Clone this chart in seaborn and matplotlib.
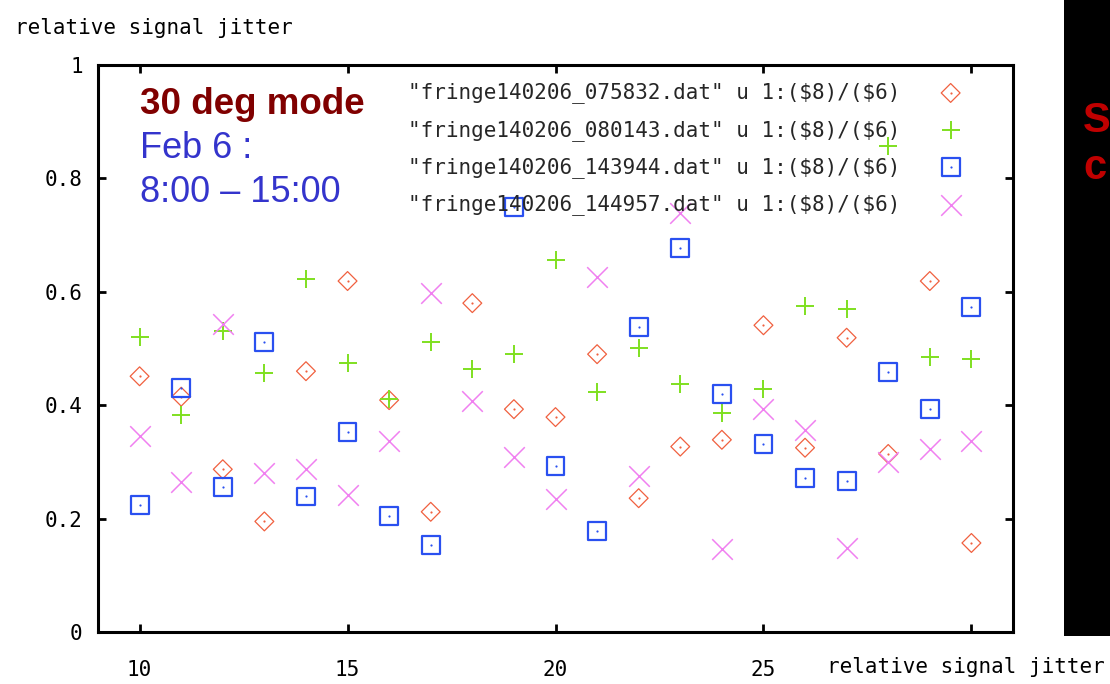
import numpy as np
import pandas as pd
import matplotlib
matplotlib.use("Agg")
import matplotlib.pyplot as plt
from matplotlib.patches import Rectangle
from matplotlib.ticker import FuncFormatter
import seaborn as sns

# ---------------- data ----------------
x_vals = list(range(10, 31))
labels = ['"fringe140206_075832.dat" u 1:(\\$8)/(\\$6)',
          '"fringe140206_080143.dat" u 1:(\\$8)/(\\$6)',
          '"fringe140206_143944.dat" u 1:(\\$8)/(\\$6)',
          '"fringe140206_144957.dat" u 1:(\\$8)/(\\$6)']
s075832 = [0.451, 0.415, 0.287, 0.195, 0.460, 0.619, 0.409, 0.212, 0.580, 0.393, 0.379,
           0.490, 0.236, 0.327, 0.339, 0.541, 0.325, 0.519, 0.314, 0.619, 0.157]
s080143 = [0.520, 0.383, 0.530, 0.456, 0.623, 0.475, 0.411, 0.511, 0.464, 0.490, 0.656,
           0.423, 0.501, 0.438, 0.386, 0.428, 0.575, 0.570, 0.857, 0.485, 0.482]
s143944 = [0.224, 0.430, 0.256, 0.511, 0.239, 0.353, 0.205, 0.153, np.nan, 0.749, 0.293,
           0.178, 0.538, 0.677, 0.420, 0.332, 0.272, 0.266, 0.459, 0.393, 0.573]
s144957 = [0.346, 0.265, 0.543, 0.280, 0.287, 0.242, 0.336, 0.598, 0.407, 0.308, 0.235,
           0.626, 0.276, 0.739, 0.146, 0.393, 0.356, 0.148, 0.300, 0.323, 0.337]
x_ticks = [10, 15, 20, 25, 30]
x_tick_labels = ["10", "15", "20", "25", ""]
y_ticks = [0, 0.2, 0.4, 0.6, 0.8, 1]

colors = ["#f0603f", "#7fe020", "#2a50f0", "#f080f0"]

# ---------------- style ----------------
sns.set_style("ticks")
mono = ["DejaVu Sans Mono"]
plt.rcParams["font.family"] = mono

fig = plt.figure(figsize=(11.10, 6.84), dpi=100)
ax = fig.add_axes([98 / 1110, 1 - 632 / 684, (1013 - 98) / 1110, (632 - 65) / 684])

df = pd.DataFrame({"x": x_vals, "a": s075832, "b": s080143, "c": s143944, "d": s144957})

# diamonds
sns.scatterplot(data=df, x="x", y="a", ax=ax, marker="D", s=92, facecolors="none",
                edgecolors=colors[0], linewidths=0.9, zorder=3)
h_d = ax.collections[-1]
sns.scatterplot(data=df, x="x", y="a", ax=ax, marker="o", s=2.5, color=colors[0],
                linewidths=0, zorder=3)
h_d2 = ax.collections[-1]
# plus
sns.scatterplot(data=df, x="x", y="b", ax=ax, marker="+", s=170, color=colors[1],
                linewidths=1.4, zorder=3)
h_p = ax.collections[-1]
# squares
sns.scatterplot(data=df, x="x", y="c", ax=ax, marker="s", s=165, facecolors="none",
                edgecolors=colors[2], linewidths=1.6, zorder=3)
h_s = ax.collections[-1]
sns.scatterplot(data=df, x="x", y="c", ax=ax, marker="o", s=2.5, color=colors[2],
                linewidths=0, zorder=3)
h_s2 = ax.collections[-1]
# crosses
sns.scatterplot(data=df, x="x", y="d", ax=ax, marker="x", s=220, color=colors[3],
                linewidths=1.1, zorder=3)
h_x = ax.collections[-1]

ax.set_xlim(9, 31)
ax.set_ylim(0, 1)
ax.set_xticks(x_ticks)
ax.set_xticklabels(x_tick_labels)
ax.set_yticks(y_ticks)
ax.yaxis.set_major_formatter(FuncFormatter(lambda v, p: "%g" % v))
ax.set_xlabel("")
ax.set_ylabel("")
for sp in ax.spines.values():
    sp.set_visible(True)
    sp.set_linewidth(2.2)
    sp.set_color("black")
ax.tick_params(axis="both", which="major", direction="in", length=6, width=2,
               top=True, right=True, labelsize=15, colors="black")
ax.tick_params(axis="x", pad=20)
ax.tick_params(axis="y", pad=11)

leg = ax.legend(handles=[(h_d, h_d2), h_p, (h_s, h_s2), h_x], labels=labels,
                loc="upper right", bbox_to_anchor=(0.966, 0.995), frameon=False,
                markerfirst=False, fontsize=15, labelspacing=0.78,
                handletextpad=1.6, handlelength=1.6, borderpad=0.2)

# annotation text
fig.text(140 / 1110, 1 - 105 / 684, "30 deg mode", color="#800000", fontsize=26.5,
         fontweight="bold", family=["Liberation Sans"], va="center", ha="left")
fig.text(140 / 1110, 1 - 149 / 684, "Feb 6 :", color="#3434cc", fontsize=26,
         family=["Liberation Sans"], va="center", ha="left")
fig.text(140 / 1110, 1 - 193 / 684, "8:00 \u2013 15:00", color="#3434cc", fontsize=26,
         family=["Liberation Sans"], va="center", ha="left")

# axis titles (gnuplot-style positions)
fig.text(15 / 1110, 1 - 28 / 684, "relative signal jitter", fontsize=15,
         va="center", ha="left", color="black")
fig.text(1105 / 1110, 1 - 667 / 684, "relative signal jitter", fontsize=15,
         va="center", ha="right", color="black")

# black slide panel at right
fig.patches.append(Rectangle((1064 / 1110, 1 - 636 / 684), 1 - 1064 / 1110, 636 / 684,
                             transform=fig.transFigure, facecolor="black",
                             edgecolor="none", zorder=0))
fig.text(1083 / 1110, 1 - 121 / 684, "S", color="#c00000", fontsize=30,
         fontweight="bold", family=["Liberation Sans"], va="center", ha="left")
fig.text(1083 / 1110, 1 - 168 / 684, "c", color="#c00000", fontsize=30,
         fontweight="bold", family=["Liberation Sans"], va="center", ha="left")

fig.savefig("out.png", dpi=100)
